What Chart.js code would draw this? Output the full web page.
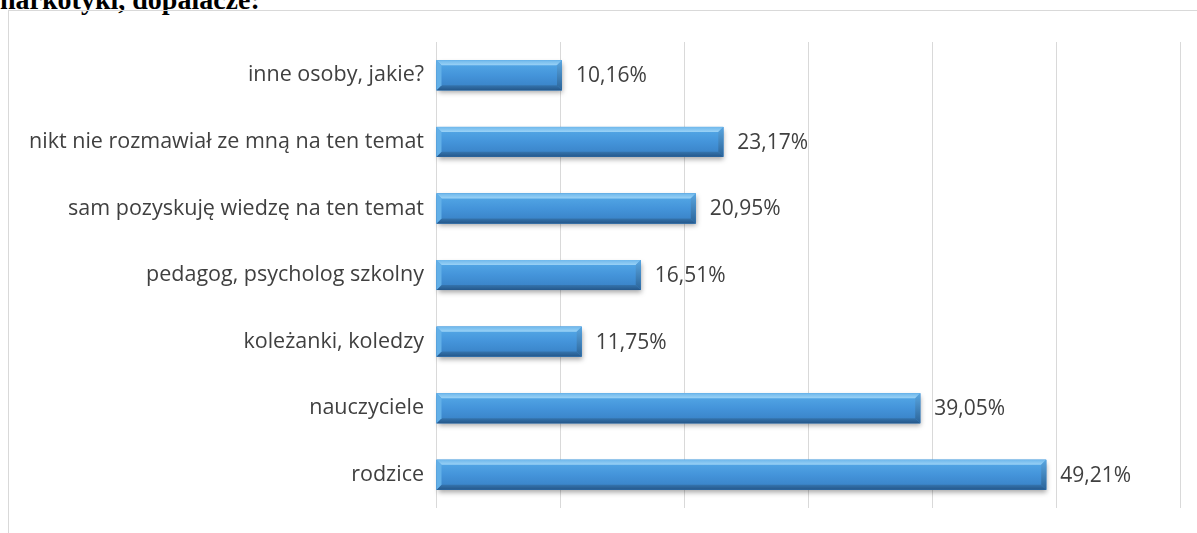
<!DOCTYPE html>
<html>
<head>
<meta charset="utf-8">
<script src="https://cdn.jsdelivr.net/npm/chart.js@4/dist/chart.umd.min.js"></script>
<style>
  html, body { margin: 0; padding: 0; background: #fff; overflow: hidden; }
  #wrap { position: relative; width: 1197px; height: 533px; }
  #heading {
    position: absolute; left: 0; top: -16px;
    font: bold 28px "Liberation Serif", "Times New Roman", serif;
    color: #000; white-space: nowrap;
  }
  #frame {
    position: absolute; left: 8px; top: 10px; width: 1200px; height: 540px;
    border: 1px solid #d9d9d9; box-sizing: border-box;
  }
  #chart { position: absolute; left: 0; top: 0; }
</style>
</head>
<body>
<div id="wrap">
  <div id="heading">narkotyki, dopalacze:</div>
  <div id="frame"></div>
  <canvas id="chart" width="1197" height="533"></canvas>
</div>
<script>
const categories = [
  'inne osoby, jakie?',
  'nikt nie rozmawiał ze mną na ten temat',
  'sam pozyskuję wiedzę na ten temat',
  'pedagog, psycholog szkolny',
  'koleżanki, koledzy',
  'nauczyciele',
  'rodzice'
]
const percentages = [10.16, 23.17, 20.95, 16.51, 11.75, 39.05, 49.21]

const axisMax = 60
const tickStep = 10
const labelFont = '"Open Sans", Lato, sans-serif'

// shaded bars with bevelled edges, drawn over the plain bars
const bevelBars = {
  id: 'bevelBars',
  afterDatasetsDraw(chart) {
    const ctx = chart.ctx
    const meta = chart.getDatasetMeta(0)
    meta.data.forEach((bar, i) => {
      const left = Math.min(bar.base, bar.x)
      const right = Math.max(bar.base, bar.x)
      const top = bar.y - bar.height / 2
      const bottom = bar.y + bar.height / 2
      const h = bottom - top
      const b = 5

      ctx.save()
      // soft shadow under the bar
      ctx.shadowColor = 'rgba(0,0,0,0.35)'
      ctx.shadowBlur = 5
      ctx.shadowOffsetY = 3
      ctx.shadowOffsetX = 1
      ctx.fillStyle = '#3f8bd0'
      ctx.fillRect(left, top, right - left, h)
      ctx.restore()

      ctx.save()
      // main face
      const face = ctx.createLinearGradient(0, top, 0, bottom)
      face.addColorStop(0, '#56abe8')
      face.addColorStop(0.5, '#4494da')
      face.addColorStop(1, '#377fc3')
      ctx.fillStyle = face
      ctx.fillRect(left, top, right - left, h)

      // top bevel
      const topGrad = ctx.createLinearGradient(0, top, 0, top + b)
      topGrad.addColorStop(0, '#6fb8ec')
      topGrad.addColorStop(1, '#9ad2f6')
      ctx.fillStyle = topGrad
      ctx.beginPath()
      ctx.moveTo(left, top)
      ctx.lineTo(right, top)
      ctx.lineTo(right - b, top + b)
      ctx.lineTo(left + b, top + b)
      ctx.closePath()
      ctx.fill()

      // bottom bevel
      const botGrad = ctx.createLinearGradient(0, bottom - b, 0, bottom)
      botGrad.addColorStop(0, '#3574ad')
      botGrad.addColorStop(1, '#24578a')
      ctx.fillStyle = botGrad
      ctx.beginPath()
      ctx.moveTo(left, bottom)
      ctx.lineTo(right, bottom)
      ctx.lineTo(right - b, bottom - b)
      ctx.lineTo(left + b, bottom - b)
      ctx.closePath()
      ctx.fill()

      // left bevel
      ctx.fillStyle = '#63b0e8'
      ctx.beginPath()
      ctx.moveTo(left, top)
      ctx.lineTo(left + b, top + b)
      ctx.lineTo(left + b, bottom - b)
      ctx.lineTo(left, bottom)
      ctx.closePath()
      ctx.fill()

      // right bevel
      const rightGrad = ctx.createLinearGradient(0, top, 0, bottom)
      rightGrad.addColorStop(0, '#5aa6e0')
      rightGrad.addColorStop(1, '#2b6499')
      ctx.fillStyle = rightGrad
      ctx.beginPath()
      ctx.moveTo(right, top)
      ctx.lineTo(right, bottom)
      ctx.lineTo(right - b, bottom - b)
      ctx.lineTo(right - b, top + b)
      ctx.closePath()
      ctx.fill()

      // value label
      ctx.fillStyle = '#404040'
      ctx.font = '21px ' + labelFont
      ctx.textAlign = 'left'
      ctx.textBaseline = 'middle'
      const text = percentages[i].toFixed(2).replace('.', ',') + '%'
      ctx.fillText(text, right + 14, bar.y + 1)
      ctx.restore()
    })
  }
}

new Chart(document.getElementById('chart'), {
  type: 'bar',
  data: {
    labels: categories,
    datasets: [{
      data: percentages,
      backgroundColor: '#4494da',
      borderWidth: 0,
      categoryPercentage: 1,
      barPercentage: 0.45
    }]
  },
  options: {
    indexAxis: 'y',
    responsive: false,
    animation: false,
    layout: { padding: { top: 42, bottom: 21, right: 17, left: 0 } },
    plugins: {
      legend: { display: false },
      tooltip: { enabled: false }
    },
    scales: {
      x: {
        min: 0,
        max: axisMax,
        ticks: { stepSize: tickStep, display: false },
        grid: { color: '#d9d9d9', lineWidth: 1, drawTicks: false },
        border: { display: false },
        afterFit: scale => { scale.height = 0 }
      },
      y: {
        grid: { display: false, drawTicks: false },
        border: { display: false },
        ticks: {
          color: '#404040',
          padding: 12,
          font: { family: labelFont, size: 21.5 }
        },
        afterFit: scale => { scale.width = 436 }
      }
    }
  },
  plugins: [bevelBars]
})
</script>
</body>
</html>
